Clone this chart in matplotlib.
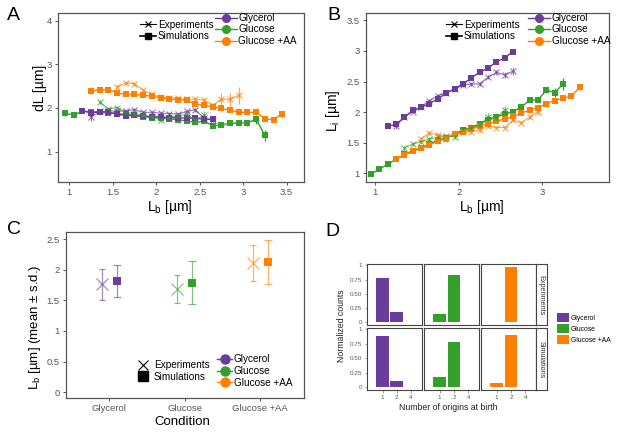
import matplotlib.pyplot as plt
from matplotlib.lines import Line2D
from matplotlib.patches import Patch
from matplotlib.ticker import FuncFormatter

plt.rcParams['font.family'] = ['Liberation Sans', 'DejaVu Sans']
plt.rcParams['mathtext.fontset'] = 'custom'
plt.rcParams['mathtext.rm'] = 'Liberation Sans'
plt.rcParams['mathtext.it'] = 'Liberation Sans:italic'

PURPLE = '#6a3d9a'
GREEN = '#33a02c'
ORANGE = '#ff7f00'
SPINE = '#555555'
TICKC = '#555555'

# ---------------- data: panel A (dL vs Lb) and B (Li vs Lb) ----------------
lb_gly_sim = [1.15, 1.25, 1.35, 1.45, 1.55, 1.65, 1.75, 1.85, 1.95, 2.05, 2.15, 2.25, 2.35, 2.45, 2.55, 2.65]
lb_gly_exp = [1.25, 1.35, 1.45, 1.55, 1.65, 1.75, 1.85, 1.95, 2.05, 2.15, 2.25, 2.35, 2.45, 2.55, 2.65]
lb_glu_sim = [0.95, 1.05, 1.15, 1.25, 1.35, 1.45, 1.55, 1.65, 1.75, 1.85, 1.95, 2.05, 2.15, 2.25,
              2.35, 2.45, 2.55, 2.65, 2.75, 2.85, 2.95, 3.05, 3.15, 3.25]
lb_glu_exp = [1.35, 1.45, 1.55, 1.65, 1.75, 1.85, 1.95, 2.05, 2.15, 2.25, 2.35, 2.45, 2.55]
lb_aa_sim = [1.25, 1.35, 1.45, 1.55, 1.65, 1.75, 1.85, 1.95, 2.05, 2.15, 2.25, 2.35, 2.45, 2.55,
             2.65, 2.75, 2.85, 2.95, 3.05, 3.15, 3.25, 3.35, 3.45]
lb_aa_exp = [1.55, 1.65, 1.75, 1.85, 1.95, 2.05, 2.15, 2.25, 2.35, 2.45, 2.55, 2.65, 2.75, 2.85, 2.95]

dl_gly_sim = [1.93, 1.89, 1.91, 1.90, 1.86, 1.82, 1.83, 1.81, 1.80, 1.79, 1.78, 1.77, 1.77, 1.76, 1.74, 1.74]
dl_gly_sim_err = [0.03, 0.03, 0.03, 0.03, 0.03, 0.03, 0.03, 0.03, 0.03, 0.03, 0.03, 0.03, 0.03, 0.03, 0.03, 0.04]
dl_gly_exp = [1.79, 1.92, 1.93, 1.93, 1.93, 1.96, 1.90, 1.90, 1.88, 1.87, 1.86, 1.92, 1.96, 1.76, 1.73]
dl_gly_exp_err = [0.08, 0.04, 0.03, 0.03, 0.03, 0.03, 0.03, 0.03, 0.03, 0.03, 0.03, 0.04, 0.05, 0.06, 0.06]
dl_glu_sim = [1.89, 1.83, 1.93, 1.91, 1.91, 1.89, 1.87, 1.85, 1.83, 1.80, 1.78, 1.78, 1.75, 1.73,
              1.70, 1.67, 1.70, 1.59, 1.61, 1.65, 1.65, 1.66, 1.74, 1.37]
dl_glu_sim_err = [0.07, 0.03, 0.03, 0.03, 0.03, 0.03, 0.03, 0.03, 0.03, 0.03, 0.03, 0.03, 0.03, 0.03,
                  0.03, 0.04, 0.04, 0.04, 0.04, 0.04, 0.05, 0.07, 0.1, 0.12]
dl_glu_exp = [2.14, 1.98, 2.01, 1.90, 1.87, 1.83, 1.80, 1.72, 1.78, 1.82, 1.85, 1.73, 1.83]
dl_glu_exp_err = [0.04, 0.04, 0.04, 0.03, 0.03, 0.03, 0.03, 0.05, 0.03, 0.03, 0.04, 0.05, 0.09]
dl_aa_sim = [2.39, 2.42, 2.42, 2.35, 2.31, 2.31, 2.29, 2.27, 2.23, 2.21, 2.19, 2.18, 2.09, 2.06,
             2.03, 1.99, 1.95, 1.90, 1.90, 1.90, 1.75, 1.73, 1.87]
dl_aa_sim_err = [0.08, 0.04, 0.03, 0.03, 0.03, 0.03, 0.03, 0.03, 0.03, 0.03, 0.03, 0.04, 0.04, 0.04,
                 0.04, 0.04, 0.04, 0.04, 0.05, 0.05, 0.05, 0.06, 0.07]
dl_aa_exp = [2.48, 2.58, 2.55, 2.41, 2.32, 2.25, 2.24, 2.22, 2.20, 2.20, 2.18, 2.06, 2.20, 2.20, 2.29]
dl_aa_exp_err = [0.05, 0.05, 0.04, 0.03, 0.03, 0.03, 0.03, 0.04, 0.04, 0.05, 0.05, 0.06, 0.15, 0.15, 0.2]

li_gly_sim = [1.77, 1.80, 1.92, 2.03, 2.08, 2.14, 2.22, 2.31, 2.38, 2.46, 2.56, 2.65, 2.72, 2.82, 2.89, 2.99]
li_gly_sim_err = [0.03, 0.03, 0.03, 0.03, 0.03, 0.03, 0.03, 0.03, 0.03, 0.03, 0.03, 0.03, 0.03, 0.03, 0.03, 0.03]
li_gly_exp = [1.78, 1.92, 2.01, 2.09, 2.19, 2.27, 2.32, 2.38, 2.44, 2.46, 2.46, 2.57, 2.65, 2.61, 2.67]
li_gly_exp_err = [0.05, 0.03, 0.03, 0.03, 0.03, 0.03, 0.03, 0.03, 0.03, 0.03, 0.03, 0.03, 0.04, 0.05, 0.07]
li_glu_sim = [0.99, 1.07, 1.15, 1.23, 1.31, 1.37, 1.42, 1.48, 1.55, 1.58, 1.64, 1.71, 1.75, 1.81,
              1.87, 1.92, 1.97, 2.01, 2.08, 2.20, 2.20, 2.36, 2.32, 2.46]
li_glu_sim_err = [0.03, 0.03, 0.03, 0.03, 0.03, 0.03, 0.03, 0.03, 0.03, 0.03, 0.03, 0.03, 0.03, 0.03,
                  0.03, 0.03, 0.03, 0.03, 0.03, 0.03, 0.03, 0.05, 0.07, 0.1]
li_glu_exp = [1.42, 1.48, 1.52, 1.56, 1.59, 1.61, 1.60, 1.71, 1.74, 1.79, 1.92, 1.90, 2.04]
li_glu_exp_err = [0.03, 0.03, 0.03, 0.03, 0.03, 0.03, 0.03, 0.03, 0.03, 0.03, 0.06, 0.05, 0.06]
li_aa_sim = [1.23, 1.30, 1.36, 1.41, 1.46, 1.53, 1.57, 1.64, 1.68, 1.72, 1.77, 1.81, 1.85, 1.89,
             1.93, 1.98, 2.04, 2.07, 2.14, 2.19, 2.23, 2.26, 2.41]
li_aa_sim_err = [0.03, 0.03, 0.03, 0.03, 0.03, 0.03, 0.03, 0.03, 0.03, 0.03, 0.03, 0.03, 0.03, 0.03,
                 0.03, 0.03, 0.03, 0.03, 0.03, 0.03, 0.03, 0.03, 0.04]
li_aa_exp = [1.57, 1.66, 1.63, 1.60, 1.64, 1.67, 1.68, 1.71, 1.78, 1.75, 1.75, 1.87, 1.83, 1.92, 2.01]
li_aa_exp_err = [0.03, 0.03, 0.03, 0.03, 0.03, 0.03, 0.03, 0.03, 0.03, 0.03, 0.03, 0.03, 0.03, 0.03, 0.04]

# ---------------- data: panel C (mean +- s.d. of Lb) ----------------
conditions = ['Glycerol', 'Glucose', 'Glucose +AA']
lb_mean_exp = [1.76, 1.68, 2.11]
lb_sd_exp = [0.25, 0.23, 0.29]
lb_mean_sim = [1.81, 1.79, 2.13]
lb_sd_sim = [0.26, 0.35, 0.36]

# ---------------- data: panel D (number of origins at birth) ----------------
origin_labels = ['1', '2', '4']
counts_exp = {'Glycerol': [0.78, 0.18, 0.0], 'Glucose': [0.14, 0.83, 0.0], 'Glucose +AA': [0.01, 0.97, 0.0]}
counts_sim = {'Glycerol': [0.88, 0.10, 0.0], 'Glucose': [0.17, 0.79, 0.0], 'Glucose +AA': [0.07, 0.91, 0.0]}

colors = {'Glycerol': PURPLE, 'Glucose': GREEN, 'Glucose +AA': ORANGE}

W, H = 617, 433
fig = plt.figure(figsize=(W / 100, H / 100), dpi=100)


def px_axes(left, top, right, bottom):
    return fig.add_axes([left / W, 1 - bottom / H, (right - left) / W, (bottom - top) / H])


def style_axes(ax, lw=0.9, fs=6.8):
    for s in ax.spines.values():
        s.set_color(SPINE)
        s.set_linewidth(lw)
    ax.tick_params(direction='out', length=2.5, width=0.7, colors=TICKC, labelsize=fs, pad=2)


fmt = FuncFormatter(lambda v, p: f'{v:g}')


def draw_series(ax, x, y, err, color, exp):
    if exp:
        ax.errorbar(x, y, yerr=err, color=color, alpha=0.7, lw=0.8, marker='x', ms=4, mew=0.8,
                    elinewidth=0.8, capsize=0, zorder=3)
    else:
        ax.errorbar(x, y, yerr=err, color=color, lw=1.0, marker='s', ms=4.3, mew=0,
                    elinewidth=0.9, capsize=0, zorder=2)


def style_legends(ax, x1, y1, x2, y2):
    h1 = [Line2D([], [], color='black', marker='x', lw=0.8, ms=5, mew=0.8),
          Line2D([], [], color='black', marker='s', lw=1.2, ms=5)]
    leg1 = ax.legend(h1, ['Experiments', 'Simulations'], loc='upper left', frameon=False,
                     bbox_to_anchor=(x1 / W, 1 - y1 / H), bbox_transform=fig.transFigure,
                     fontsize=7.2, handlelength=1.6, handletextpad=0.2, labelspacing=0.15,
                     borderpad=0, borderaxespad=0)
    ax.add_artist(leg1)
    h2 = [Line2D([], [], color=colors[c], marker='o', lw=1.0, ms=5.5) for c in conditions]
    ax.legend(h2, conditions, loc='upper left', frameon=False,
              bbox_to_anchor=(x2 / W, 1 - y2 / H), bbox_transform=fig.transFigure,
              fontsize=7.2, handlelength=2.2, handletextpad=0.15, labelspacing=0.15,
              borderpad=0, borderaxespad=0)


# ---------------- Panel A ----------------
axA = px_axes(58, 13, 304, 182)
draw_series(axA, lb_glu_sim, dl_glu_sim, dl_glu_sim_err, GREEN, False)
draw_series(axA, lb_aa_sim, dl_aa_sim, dl_aa_sim_err, ORANGE, False)
draw_series(axA, lb_gly_sim, dl_gly_sim, dl_gly_sim_err, PURPLE, False)
draw_series(axA, lb_glu_exp, dl_glu_exp, dl_glu_exp_err, GREEN, True)
draw_series(axA, lb_aa_exp, dl_aa_exp, dl_aa_exp_err, ORANGE, True)
draw_series(axA, lb_gly_exp, dl_gly_exp, dl_gly_exp_err, PURPLE, True)
axA.set_xlim(0.87, 3.7)
axA.set_ylim(0.3, 4.18)
axA.set_xticks([1, 1.5, 2, 2.5, 3, 3.5])
axA.set_yticks([1, 2, 3, 4])
axA.xaxis.set_major_formatter(fmt)
axA.yaxis.set_major_formatter(fmt)
axA.set_xlabel('L$_{\\rm b}$ [µm]', fontsize=10)
axA.set_ylabel('dL [µm]', fontsize=10)
axA.xaxis.set_label_coords(0.455, -0.095)
axA.yaxis.set_label_coords(-0.045, 0.556)
style_axes(axA)
style_legends(axA, 140, 19.5, 215, 13)

# ---------------- Panel B ----------------
axB = px_axes(366, 13, 609, 182)
draw_series(axB, lb_glu_sim, li_glu_sim, li_glu_sim_err, GREEN, False)
draw_series(axB, lb_aa_sim, li_aa_sim, li_aa_sim_err, ORANGE, False)
draw_series(axB, lb_gly_sim, li_gly_sim, li_gly_sim_err, PURPLE, False)
draw_series(axB, lb_glu_exp, li_glu_exp, li_glu_exp_err, GREEN, True)
draw_series(axB, lb_aa_exp, li_aa_exp, li_aa_exp_err, ORANGE, True)
draw_series(axB, lb_gly_exp, li_gly_exp, li_gly_exp_err, PURPLE, True)
axB.set_xlim(0.89, 3.8)
axB.set_ylim(0.86, 3.62)
axB.set_xticks([1, 2, 3])
axB.set_yticks([1, 1.5, 2, 2.5, 3, 3.5])
axB.xaxis.set_major_formatter(fmt)
axB.yaxis.set_major_formatter(fmt)
axB.set_xlabel('L$_{\\rm b}$ [µm]', fontsize=10)
axB.set_ylabel('L$_{\\rm i}$ [µm]', fontsize=10)
axB.xaxis.set_label_coords(0.477, -0.095)
axB.yaxis.set_label_coords(-0.099, 0.42)
style_axes(axB)
style_legends(axB, 446, 19.5, 528, 13)

# ---------------- Panel C ----------------
axC = px_axes(66, 231.7, 304, 397.7)
for i, c in enumerate(conditions):
    axC.errorbar(i - 0.1, lb_mean_exp[i], yerr=lb_sd_exp[i], color=colors[c], alpha=0.6,
                 marker='x', ms=8.5, mew=0.9, elinewidth=0.9, capsize=2.3, capthick=0.9)
    axC.errorbar(i + 0.1, lb_mean_sim[i], yerr=lb_sd_sim[i], color=colors[c], alpha=0.6,
                 marker='none', elinewidth=0.9, capsize=2.8, capthick=0.9)
    axC.plot(i + 0.1, lb_mean_sim[i], marker='s', ms=6.3, color=colors[c], mew=0, ls='none')
axC.set_xlim(-0.575, 2.58)
axC.set_ylim(-0.09, 2.62)
axC.set_xticks(range(len(conditions)))
axC.set_xticklabels(conditions)
axC.set_yticks([0, 0.5, 1, 1.5, 2, 2.5])
axC.yaxis.set_major_formatter(fmt)
axC.set_xlabel('Condition', fontsize=9.5)
axC.set_ylabel('L$_{\\rm b}$ [µm] (mean ± s.d.)', fontsize=9.5)
axC.xaxis.set_label_coords(0.49, -0.11)
axC.yaxis.set_label_coords(-0.097, 0.423)
style_axes(axC)
hc1 = [Line2D([], [], color='black', marker='x', ls='none', ms=7, mew=0.8),
       Line2D([], [], color='black', marker='s', ls='none', ms=6.5)]
legc1 = axC.legend(hc1, ['Experiments', 'Simulations'], loc='upper left', frameon=False,
                   bbox_to_anchor=(137 / W, 1 - 360 / H), bbox_transform=fig.transFigure,
                   fontsize=7.2, handlelength=1.2, handletextpad=0.5, labelspacing=0.15,
                   borderpad=0, borderaxespad=0)
axC.add_artist(legc1)
hc2 = [Line2D([], [], color=colors[c], marker='o', lw=1.0, ms=6.5) for c in conditions]
axC.legend(hc2, conditions, loc='upper left', frameon=False,
           bbox_to_anchor=(217 / W, 1 - 354.5 / H), bbox_transform=fig.transFigure,
           fontsize=7.2, handlelength=1.5, handletextpad=0.2, labelspacing=0.15,
           borderpad=0, borderaxespad=0)

# ---------------- Panel D ----------------
col_edges = [(367, 421.7), (424, 479), (481, 536)]
row_edges = [(264.3, 325), (328.3, 390)]
rows = [('Experiments', counts_exp), ('Simulations', counts_sim)]
for r, (row_name, counts) in enumerate(rows):
    top, bottom = row_edges[r]
    for ci, c in enumerate(conditions):
        left, right = col_edges[ci]
        ax = px_axes(left, top, right, bottom)
        vals = counts[c]
        ax.bar(range(len(origin_labels)), vals, width=0.9, color=colors[c])
        ax.set_xlim(-1.1, 2.75)
        ax.set_ylim(-0.0485, 1.0185)
        ax.set_xticks(range(len(origin_labels)))
        ax.set_yticks([0, 0.25, 0.5, 0.75, 1])
        for s in ax.spines.values():
            s.set_color('#444444')
            s.set_linewidth(0.8)
        ax.tick_params(direction='out', length=1.8, width=0.5, colors='#777777',
                       labelsize=4.5, pad=1.5, labelcolor='#555555')
        if r == 1:
            ax.set_xticklabels(origin_labels)
        else:
            ax.set_xticklabels([])
            ax.tick_params(axis='x', length=0)
        if ci == 0:
            ax.set_yticklabels(['0', '0.25', '0.50', '0.75', '1'])
        else:
            ax.set_yticklabels([])
            ax.tick_params(axis='y', length=0)
    sax = px_axes(536, top, 546.7, bottom)
    sax.set_xticks([])
    sax.set_yticks([])
    for s in sax.spines.values():
        s.set_color('#444444')
        s.set_linewidth(0.8)
    sax.text(0.5, 0.5, row_name, rotation=270, ha='center', va='center', fontsize=5.2,
             color='#333333', transform=sax.transAxes)

fig.text(448.7 / W, 1 - 407.3 / H, 'Number of origins at birth', ha='center', va='center',
         fontsize=6.3, color='#222222')
fig.text(342 / W, 1 - 325.7 / H, 'Normalized counts', ha='center', va='center',
         rotation=90, fontsize=6.3, color='#222222')
hd = [Patch(facecolor=colors[c], edgecolor='none') for c in conditions]
fig.legend(hd, conditions, loc='upper left', frameon=False,
           bbox_to_anchor=(556.7 / W, 1 - 312.7 / H), fontsize=4.9,
           handlelength=1.75, handleheight=1.75, handletextpad=0.3, labelspacing=0.25,
           borderpad=0, borderaxespad=0)

# panel labels
for lab, x, y in [('A', 7, 15), ('B', 327, 15), ('C', 7, 230), ('D', 325, 232)]:
    fig.text(x / W, 1 - y / H, lab, fontsize=14, ha='left', va='center')

fig.savefig('out.png', dpi=100)
